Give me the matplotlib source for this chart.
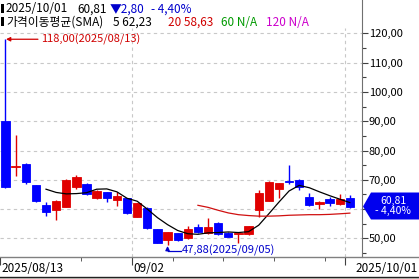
import matplotlib.pyplot as plt
from matplotlib.patches import Polygon, Rectangle
from matplotlib.lines import Line2D
from matplotlib.ticker import FixedLocator, FuncFormatter

plt.rcParams['font.family'] = ['Noto Sans CJK KR', 'DejaVu Sans']

# data (2025/08/13 .. 2025/10/01)
opens = [90.2, 74.5, 75.4, 68.2, 61.4, 59.7, 60.8, 67.6, 68.6, 63.7, 65.7, 63.1,
         63.7, 57.4, 60.5, 53.1, 49.5, 51.7, 50.0, 53.8, 51.7, 55.4, 52.0, 51.5,
         51.5, 59.7, 62.9, 66.9, 69.5, 70.0, 64.2, 61.7, 63.4, 61.7, 63.7]
closes = [67.6, 74.8, 69.4, 62.8, 59.1, 62.8, 69.9, 70.9, 65.1, 66.2, 63.7, 64.6,
          58.8, 62.0, 53.4, 48.5, 52.1, 49.4, 53.2, 52.3, 53.8, 51.5, 50.6, 51.7,
          54.2, 65.6, 69.1, 68.8, 69.3, 67.4, 61.4, 62.5, 62.0, 63.61, 60.81]
highs = [118.0, 85.3, 75.6, 68.4, 62.3, 63.0, 70.2, 71.6, 68.9, 66.4, 65.9, 65.7,
         63.9, 62.2, 60.7, 53.3, 52.3, 51.9, 54.2, 54.9, 56.9, 55.6, 52.2, 51.9,
         54.4, 66.5, 69.7, 69.0, 75.1, 70.3, 65.4, 62.8, 64.1, 65.2, 64.9]
lows = [67.3, 71.3, 68.5, 62.4, 57.7, 56.3, 60.6, 66.8, 64.8, 63.5, 62.3, 61.2,
        58.5, 57.2, 53.2, 48.3, 47.88, 49.2, 49.8, 52.0, 51.5, 51.3, 50.4, 48.3,
        51.3, 57.4, 62.7, 63.7, 68.5, 66.5, 61.2, 60.0, 61.1, 61.5, 60.5]

# moving averages as drawn (SMA5 from bar 4, SMA20 from bar 19)
sma5 = [66.8, 65.7, 65.2, 65.3, 65.6, 66.8, 66.9, 65.9, 63.7, 62.7, 60.0, 57.1,
        54.7, 52.7, 51.6, 51.4, 51.9, 52.0, 52.2, 52.0, 52.3, 54.5, 58.4, 62.4,
        66.2, 68.1, 67.3, 65.9, 64.6, 63.4, 62.23]
sma20 = [61.3, 60.6, 59.6, 58.7, 58.1, 57.8, 57.6, 57.6, 57.7, 57.9, 58.0, 58.1,
         58.1, 58.2, 58.4, 58.63]

price_ticks = [50, 60, 70, 80, 90, 100, 110, 120]

W, H = 419, 279
RED = '#e00000'
BLUE = '#0000ff'


def fx(px):
    return px / W


def fy(py):
    return 1 - py / H


def price_label(v, pos):
    # the 60,00 label sits under the last-price tag
    if v == 60:
        return ''
    return f'{v:.2f}'.replace('.', ',')


fig = plt.figure(figsize=(W / 100, H / 100), dpi=100)
ax = fig.add_axes([0, fy(257), fx(362), 257 / H])
ax.set_xlim(-0.543, 35.2)
ax.set_ylim(43.65, 131.4)

n = len(closes)
xs = list(range(n))

# grid
for v in price_ticks:
    ax.axhline(v, color='#c8c8c8', lw=0.8, ls=(0, (3, 3)), zorder=0)
ax.vlines([12.5, 33.5], 43.65, 122, color='#c8c8c8', lw=0.8, ls=(0, (3, 3)), zorder=0)

# candles
for i in xs:
    c = RED if closes[i] >= opens[i] else BLUE
    ax.vlines(i, lows[i], highs[i], color=c, lw=1, zorder=2)
    lo = min(opens[i], closes[i])
    ax.bar(i, abs(closes[i] - opens[i]), bottom=lo, width=0.82, color=c,
           edgecolor=c, lw=0.6, zorder=3)

# moving averages
ax.plot(xs[4:], sma5, color='black', lw=0.9, zorder=4)
ax.plot(xs[19:], sma20, color='#d01010', lw=0.9, zorder=4)

# high / low annotations
ax.annotate('118,00(2025/08/13)', xy=(0.05, 118), xytext=(25, 0),
            textcoords='offset points', color='#d00000', fontsize=8,
            va='center', ha='left',
            arrowprops=dict(arrowstyle='-|>', color='#d00000', lw=0.9,
                            mutation_scale=6, shrinkA=0, shrinkB=0))
ax.plot([16, 17.3], [45.8, 45.8], color='#0000cc', lw=0.9, zorder=5)
ax.annotate('', xy=(16, 47.4), xytext=(16, 45.8),
            arrowprops=dict(arrowstyle='-|>', color='#0000cc', lw=0.9,
                            mutation_scale=6, shrinkA=0, shrinkB=0))
ax.text(17.4, 45.8, '47,88(2025/09/05)', color='#0000cc', fontsize=8,
        va='center', ha='left')

# right price axis
for s in ['top', 'left', 'bottom']:
    ax.spines[s].set_visible(False)
ax.spines['right'].set_color('#707070')
ax.yaxis.tick_right()
ax.yaxis.set_major_locator(FixedLocator(price_ticks))
ax.yaxis.set_minor_locator(FixedLocator([v + 5 for v in price_ticks[:-1]] + [45]))
ax.yaxis.set_major_formatter(FuncFormatter(price_label))
ax.tick_params(axis='y', which='major', direction='out', length=4, width=0.8,
               color='#404040', labelsize=8, pad=1)
ax.tick_params(axis='y', which='minor', direction='out', length=3, width=0.8,
               color='#404040')

# bottom date strip
ax.set_xticks([-0.5, 12.5, 33.5])
ax.set_xticks([7.5, 16.5, 21.5, 26.5, 31.5], minor=True)
ax.set_xticklabels([])
ax.tick_params(axis='x', which='major', direction='out', length=6, color='#404040')
ax.tick_params(axis='x', which='minor', direction='out', length=3, color='#404040')
fig.add_artist(Line2D([0, 1], [fy(257), fy(257)], color='#808080', lw=1))
fig.add_artist(Line2D([0, 1], [fy(277), fy(277)], color='#202020', lw=1))
fig.add_artist(Rectangle((0, 0), 1, fy(278), color='#d4d0c8', lw=0))
fig.text(fx(1), fy(268), '2025/08/13', fontsize=8.5, va='center', ha='left')
fig.text(fx(133), fy(268), '09/02', fontsize=8.5, va='center', ha='left')
fig.text(fx(418), fy(268), '2025/10/01', fontsize=8.5, va='center', ha='right')

# last price tag
tag = [(363, 206.5), (371, 192.5), (419, 192.5), (419, 219.5), (371, 219.5)]
fig.add_artist(Polygon([(fx(a), fy(b)) for a, b in tag], closed=True,
                       color='#0000ee', lw=0))
fig.text(fx(393), fy(206), '60,81\n- 4,40%', color='white', fontsize=7.5,
         va='center', ha='center', multialignment='center', linespacing=0.95)

# header
for yb in (4, 17):
    fig.add_artist(Rectangle((fx(1), fy(yb + 9)), fx(3), 9 / H, color='black', lw=0))
head1 = [(5, '2025/10/01', 'black'), (77, '60,81', 'black'),
         (110, '▼2,80', '#0000cc'), (151, '- 4,40%', '#0000cc')]
head2 = [(6, '가격이동평균(SMA)', 'black'), (113, '5 62,23', 'black'),
         (168, '20 58,63', '#d00000'), (221, '60 N/A', '#009900'),
         (266, '120 N/A', '#cc00cc')]
for x, s, c in head1:
    fig.text(fx(x), fy(12.5), s, color=c, fontsize=8.5, ha='left', va='baseline')
for x, s, c in head2:
    fig.text(fx(x), fy(26), s, color=c, fontsize=8.5, ha='left', va='baseline')

fig.savefig('out.png', dpi=100)
